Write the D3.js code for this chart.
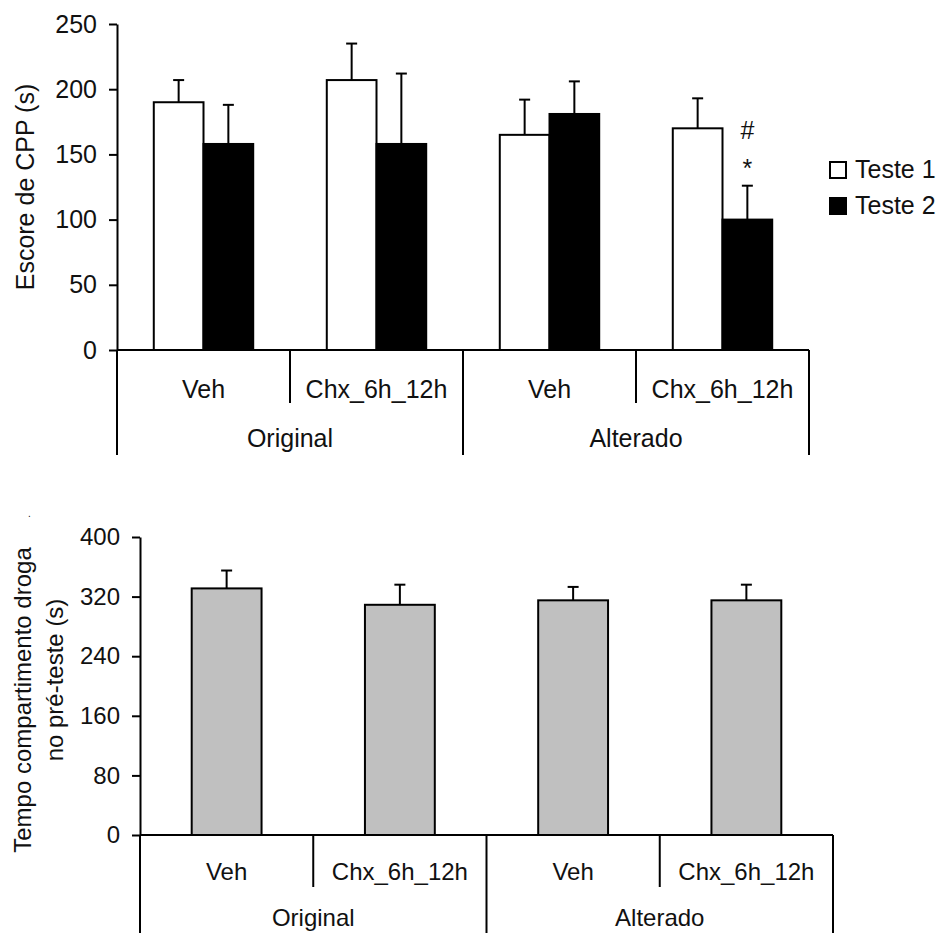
<!DOCTYPE html>
<html>
<head>
<meta charset="utf-8">
<script src="https://cdn.jsdelivr.net/npm/d3@7"></script>
<style>
  body { margin: 0; background: #fff; }
  svg text { font-family: "Liberation Sans", Arial, sans-serif; fill: #111; }
</style>
</head>
<body>
<svg id="fig" width="944" height="933"></svg>
<script>
// dados
const categories = ["Veh", "Chx_6h_12h", "Veh", "Chx_6h_12h"];
const groups = ["Original", "Alterado"];
const seriesNames = ["Teste 1", "Teste 2"];
const teste1 = [190, 207, 165, 170];
const teste1Err = [17, 28, 27, 23];
const teste2 = [158, 158, 181, 100];
const teste2Err = [30, 54, 25, 26];
const preTeste = [331, 309, 315, 315];
const preTesteErr = [24, 27, 18, 21];
const ticksTop = [0, 50, 100, 150, 200, 250];
const ticksBottom = [0, 80, 160, 240, 320, 400];
// significância: Chx_6h_12h alterado, Teste 2
const signifCat = 3;
const signifMarks = ["*", "#"];

const svg = d3.select("#fig");

function drawPanel(cfg) {
    const x = d3.scaleBand()
        .domain(d3.range(categories.length))
        .range([cfg.left, cfg.right]);
    const y = d3.scaleLinear()
        .domain([0, cfg.max])
        .range([cfg.bottom, cfg.top]);
    const inner = d3.scaleBand()
        .domain(cfg.series.map(s => s.name))
        .range([0, x.bandwidth()])
        .paddingOuter(0.74);

    const g = svg.append("g");

    // barras
    cfg.series.forEach(s => {
        g.selectAll(null)
            .data(s.values)
            .enter()
            .append("rect")
            .attr("x", (d, i) => x(i) + inner(s.name))
            .attr("y", d => y(d))
            .attr("width", inner.bandwidth())
            .attr("height", d => y(0) - y(d))
            .attr("fill", s.fill)
            .attr("stroke", "#000")
            .attr("stroke-width", 2);

        // barras de erro (só para cima)
        const eb = g.selectAll(null)
            .data(s.values.map((v, i) => ({ i, v, e: s.err[i] })))
            .enter()
            .append("g")
            .attr("transform", d => `translate(${x(d.i) + inner(s.name) + inner.bandwidth() / 2},0)`);
        eb.append("line")
            .attr("y1", d => y(d.v)).attr("y2", d => y(d.v + d.e))
            .attr("stroke", "#000").attr("stroke-width", 2);
        eb.append("line")
            .attr("x1", -5.5).attr("x2", 5.5)
            .attr("y1", d => y(d.v + d.e)).attr("y2", d => y(d.v + d.e))
            .attr("stroke", "#000").attr("stroke-width", 2);
    });

    // eixo y
    const ay = g.append("g")
        .attr("transform", `translate(${cfg.left},0)`)
        .call(d3.axisLeft(y).tickValues(cfg.ticks).tickSize(8).tickPadding(12).tickSizeOuter(0));
    ay.select(".domain").attr("stroke", "#000").attr("stroke-width", 2);
    ay.selectAll(".tick line").attr("stroke", "#000").attr("stroke-width", 2);
    ay.selectAll(".tick text")
        .attr("font-size", cfg.fontSize)
        .attr("font-family", "Liberation Sans, Arial, sans-serif")
        .attr("fill", "#111");

    // linha do zero
    g.append("line")
        .attr("x1", cfg.left).attr("x2", cfg.right)
        .attr("y1", y(0)).attr("y2", y(0))
        .attr("stroke", "#000").attr("stroke-width", 2);

    // divisórias das categorias e dos grupos
    const bounds = d3.range(categories.length + 1)
        .map(i => i < categories.length ? x(i) : cfg.right);
    g.selectAll(null)
        .data(bounds)
        .enter()
        .append("line")
        .attr("x1", d => d).attr("x2", d => d)
        .attr("y1", y(0))
        .attr("y2", (d, i) => i % 2 === 0 ? cfg.groupSep : cfg.catSep)
        .attr("stroke", "#000").attr("stroke-width", 2);

    g.selectAll(null)
        .data(categories)
        .enter()
        .append("text")
        .attr("x", (d, i) => x(i) + x.bandwidth() / 2)
        .attr("y", cfg.catY)
        .attr("text-anchor", "middle")
        .attr("font-size", cfg.fontSize)
        .text(d => d);

    g.selectAll(null)
        .data(groups)
        .enter()
        .append("text")
        .attr("x", (d, i) => x(i * 2) + x.bandwidth())
        .attr("y", cfg.groupY)
        .attr("text-anchor", "middle")
        .attr("font-size", cfg.fontSize)
        .text(d => d);

    return { x, y, inner, g };
}

// painel de cima
const topPanel = drawPanel({
    left: 117, right: 809, top: 24, bottom: 350, max: 250,
    ticks: ticksTop, fontSize: 25,
    catY: 398, groupY: 447, catSep: 403, groupSep: 455,
    series: [
        { name: seriesNames[0], values: teste1, err: teste1Err, fill: "#fff" },
        { name: seriesNames[1], values: teste2, err: teste2Err, fill: "#000" }
    ]
});

svg.append("text")
    .attr("transform", "translate(34,187) rotate(-90)")
    .attr("text-anchor", "middle")
    .attr("font-size", 25)
    .text("Escore de CPP (s)");

// asterisco e cerquilha sobre o Teste 2
const sx = topPanel.x(signifCat) + topPanel.inner(seriesNames[1]) + topPanel.inner.bandwidth() / 2;
const sTop = topPanel.y(teste2[signifCat] + teste2Err[signifCat]);
topPanel.g.selectAll(null)
    .data(signifMarks)
    .enter()
    .append("text")
    .attr("x", sx)
    .attr("y", (d, i) => sTop - 9 - i * 38)
    .attr("text-anchor", "middle")
    .attr("font-size", 25)
    .text(d => d);

// legenda
const legend = svg.append("g").attr("transform", "translate(830,162)");
const li = legend.selectAll(null)
    .data(seriesNames)
    .enter()
    .append("g")
    .attr("transform", (d, i) => `translate(0,${i * 36})`);
li.append("rect")
    .attr("width", 16).attr("height", 16)
    .attr("fill", (d, i) => i === 0 ? "#fff" : "#000")
    .attr("stroke", "#000").attr("stroke-width", 2);
li.append("text")
    .attr("x", 25).attr("y", 16)
    .attr("font-size", 25)
    .text(d => d);

// painel de baixo
drawPanel({
    left: 140, right: 833, top: 537, bottom: 835, max: 400,
    ticks: ticksBottom, fontSize: 24,
    catY: 880, groupY: 926, catSep: 887, groupSep: 945,
    series: [
        { name: "Pré-teste", values: preTeste, err: preTesteErr, fill: "#c0c0c0" }
    ]
});

svg.append("text")
    .attr("transform", "translate(31,700) rotate(-90)")
    .attr("text-anchor", "middle")
    .attr("font-size", 24)
    .text("Tempo compartimento droga");
svg.append("text")
    .attr("transform", "translate(63,680) rotate(-90)")
    .attr("text-anchor", "middle")
    .attr("font-size", 24)
    .text("no pré-teste (s)");
svg.append("text")
    .attr("x", 28).attr("y", 517)
    .attr("font-size", 10)
    .text(".");
</script>
</body>
</html>
